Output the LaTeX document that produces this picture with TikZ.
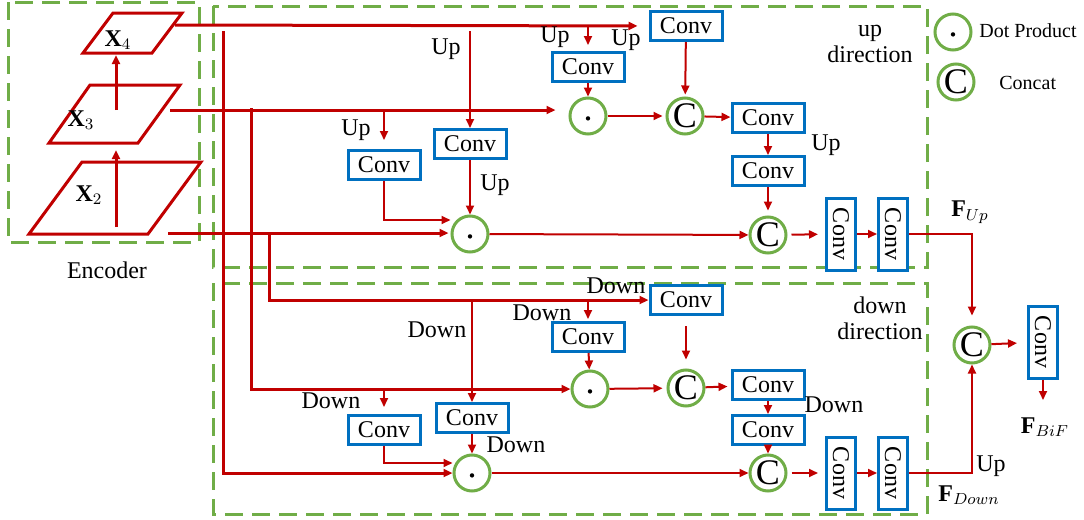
\documentclass[tikz,border=0pt]{standalone}
\usepackage{amsmath}
\usepackage{fontspec}
\setmainfont{Liberation Serif}
\usepackage{tikz}
\usetikzlibrary{arrows.meta}
\definecolor{flowred}{HTML}{C00000}
\definecolor{convblue}{HTML}{0070C0}
\definecolor{opgreen}{HTML}{70AD47}
\tikzset{
  convbox/.style={draw=convblue, line width=1.5pt, fill=white, minimum width=36pt,
                  minimum height=14.5pt, inner sep=0pt, font=\fontsize{12}{14}\selectfont},
  vconvbox/.style={convbox, rotate=-90},
  opnode/.style={circle, draw=opgreen, line width=1.5pt, fill=white, minimum size=18pt, inner sep=0pt},
  dotop/.style={opnode, path picture={\fill[black] ([yshift=-1.2pt]path picture bounding box.center) circle (1.1pt);}},
  catop/.style={opnode, font=\fontsize{18}{18}\selectfont},
  flow/.style={-{Triangle[length=4.5pt, width=4pt]}, line width=1pt, draw=flowred},
  mainflow/.style={flow, line width=1.5pt},
  level/.style={draw=flowred, line width=1.5pt, line join=miter},
  region/.style={draw=opgreen, line width=1.5pt, dash pattern=on 9pt off 4.5pt},
  lbl/.style={font=\fontsize{12}{13}\selectfont, inner sep=0pt, align=center},
  keylbl/.style={font=\fontsize{10}{12}\selectfont, inner sep=0pt},
  featlbl/.style={font=\fontsize{12}{14}\selectfont, inner sep=0pt},
}
\begin{document}
\begin{tikzpicture}[x=0.5pt, y=-0.5pt]
  \useasboundingbox (0,0) rectangle (1084,520);

  \draw[region] (8,2) rectangle (199,242);
  \draw[region] (213,6) rectangle (927,267);
  \draw[region] (213,283) rectangle (927,514);

  \draw[level] (29,234) -- (82,162) -- (201,162) -- (148,234) -- cycle;
  \draw[level] (49,143) -- (90,85) -- (180,85) -- (138,143) -- cycle;
  \draw[level] (83,53) -- (113,13) -- (182,13) -- (152,53) -- cycle;
  \node[featlbl] (x2) at (89,195) {$\mathbf{X}_2$};
  \node[featlbl] (x3) at (81,120) {$\mathbf{X}_3$};
  \node[featlbl] (x4) at (118,40) {$\mathbf{X}_4$};
  \node[lbl] (enc) at (107,270) {Encoder};

  \coordinate (x2up) at (116,227);
  \coordinate (x3low) at (116,150);
  \coordinate (x3up) at (116,110);
  \coordinate (x4low) at (116,55);
  \draw[mainflow] (x2up) -- (x3low);
  \draw[mainflow] (x3up) -- (x4low);

  \coordinate (x4out) at (175,25);
  \coordinate (x3out) at (170,110);
  \coordinate (x2out) at (168,233);
  \coordinate (x4dn) at (223,31);
  \coordinate (x3dn) at (251,108);
  \coordinate (x2dn) at (269,233);

  % up direction
  \node[convbox] (uc0) at (384,165) {Conv};
  \node[convbox] (uc1) at (470,144) {Conv};
  \node[dotop] (u1) at (470,234) {};
  \node[convbox] (uc2) at (588,67) {Conv};
  \node[dotop] (u2) at (588,116) {};
  \node[convbox] (uc4) at (686,26) {Conv};
  \node[catop] (ucat1) at (685,116) {C};
  \node[convbox] (uc5) at (768,118) {Conv};
  \node[convbox] (uc6) at (768,171) {Conv};
  \node[catop] (ucat2) at (768,235) {C};
  \node[vconvbox] (uv1) at (841,234) {Conv};
  \node[vconvbox] (uv2) at (893,234) {Conv};
  \node[lbl] at (870,44) {up\\direction};

  % down direction
  \node[convbox] (dc0) at (384,430) {Conv};
  \node[convbox] (dc1) at (472,418) {Conv};
  \node[dotop] (d1) at (472,473) {};
  \node[convbox] (dc2) at (588,337) {Conv};
  \node[dotop] (d2) at (590,389) {};
  \node[convbox] (dc3) at (686,300) {Conv};
  \node[catop] (dcat1) at (686,388) {C};
  \node[convbox] (dc4) at (768,385) {Conv};
  \node[convbox] (dc5) at (768,430) {Conv};
  \node[catop] (dcat2) at (768,473) {C};
  \node[vconvbox] (dv1) at (841,473) {Conv};
  \node[vconvbox] (dv2) at (893,473) {Conv};
  \node[lbl] at (880,318) {down\\direction};

  \node[catop] (fcat) at (972,345) {C};
  \node[vconvbox] (fconv) at (1043,342) {Conv};
  \coordinate (fout) at (1043,400);

  \draw[mainflow, shorten >=5.5pt] (x4out) -- (uc4.west);
  \draw[mainflow, shorten >=6.5pt] (x3out) -- (x3out -| u2.west);
  \draw[mainflow, shorten >=1pt] (x2out) -- (x2out -| u1.west);
  \draw[mainflow] (x4dn) |- (d1.west);
  \draw[mainflow] (x3dn) |- (d2.west);
  \draw[mainflow] (x2dn) |- (dc3.west);

  \draw[flow] (uc1.north |- x4dn) -- (uc1.north);
  \draw[flow] (uc1) -- (u1);
  \draw[flow, shorten >=4.5pt] (uc0.north |- x3up) -- (uc0.north);
  \draw[flow] (uc0.south) |- ([yshift=7pt]u1.west);
  \draw[flow] (u1) -- (ucat2);
  \draw[flow, shorten >=3pt] (uc2.north |- x4out) -- (uc2.north);
  \draw[flow] (uc2) -- (u2);
  \draw[flow, shorten >=1.5pt] (u2) -- (ucat1);
  \draw[flow, shorten >=1pt] (uc4) -- (ucat1);
  \draw[flow] (ucat1) -- (uc5);
  \draw[flow] (uc5) -- (uc6);
  \draw[flow, shorten >=2.5pt] (uc6) -- (ucat2);
  \draw[flow, shorten <=2pt, shorten >=3.5pt] (ucat2) -- (uv1);
  \draw[flow] (uv1) -- (uv2);
  \draw[flow, shorten >=5pt] (uv2.north) -| (fcat.north);

  \draw[flow] (dc1.north |- dc3) -- (dc1.north);
  \draw[flow] (dc1) -- (d1);
  \draw[flow, shorten >=3.5pt] (dc0.north |- 0,391) -- (dc0.north);
  \draw[flow] (dc0.south) |- ([yshift=5pt]d1.west);
  \draw[flow] (d1) -- (dcat2);
  \draw[flow, shorten >=1pt] (dc2.north |- dc3) -- (dc2.north);
  \draw[flow] (dc2) -- (d2);
  \draw[flow, shorten >=2pt] (d2) -- (dcat1);
  \draw[flow, shorten <=5pt, shorten >=4.5pt] (dc3) -- (dcat1);
  \draw[flow, shorten >=1.5pt] (dcat1) -- (dc4);
  \draw[flow] (dc4) -- (dc5);
  \draw[flow] (dc5) -- (dcat2);
  \draw[flow, shorten <=2pt, shorten >=3.5pt] (dcat2) -- (dv1);
  \draw[flow] (dv1) -- (dv2);
  \draw[flow] (dv2.north) -| (fcat.south);

  \draw[flow, shorten >=5pt] (fcat) -- (fconv);
  \draw[flow] (fconv.east) -- (fout);

  \node[lbl] at (446,49) {Up};
  \node[lbl] at (356,130) {Up};
  \node[lbl] at (495,185) {Up};
  \node[lbl] at (555,37) {Up};
  \node[lbl] at (626,40) {Up};
  \node[lbl] at (826,145) {Up};
  \node[lbl] at (991,466) {Up};
  \node[lbl] at (437,330) {Down};
  \node[lbl] at (331,401) {Down};
  \node[lbl] at (516,445) {Down};
  \node[lbl] at (616,286) {Down};
  \node[lbl] at (542,313) {Down};
  \node[lbl] at (834,405) {Down};
  \node[featlbl] at (970,212) {$\mathbf{F}_{Up}$};
  \node[featlbl] at (969,495) {$\mathbf{F}_{Down}$};
  \node[featlbl] at (1045,427) {$\mathbf{F}_{BiF}$};

  \node[dotop] (keydot) at (953,32) {};
  \node[keylbl, anchor=west] at (979,31) {Dot Product};
  \node[catop] (keycat) at (956,82) {C};
  \node[keylbl, anchor=west] at (999,83) {Concat};
\end{tikzpicture}
\end{document}
